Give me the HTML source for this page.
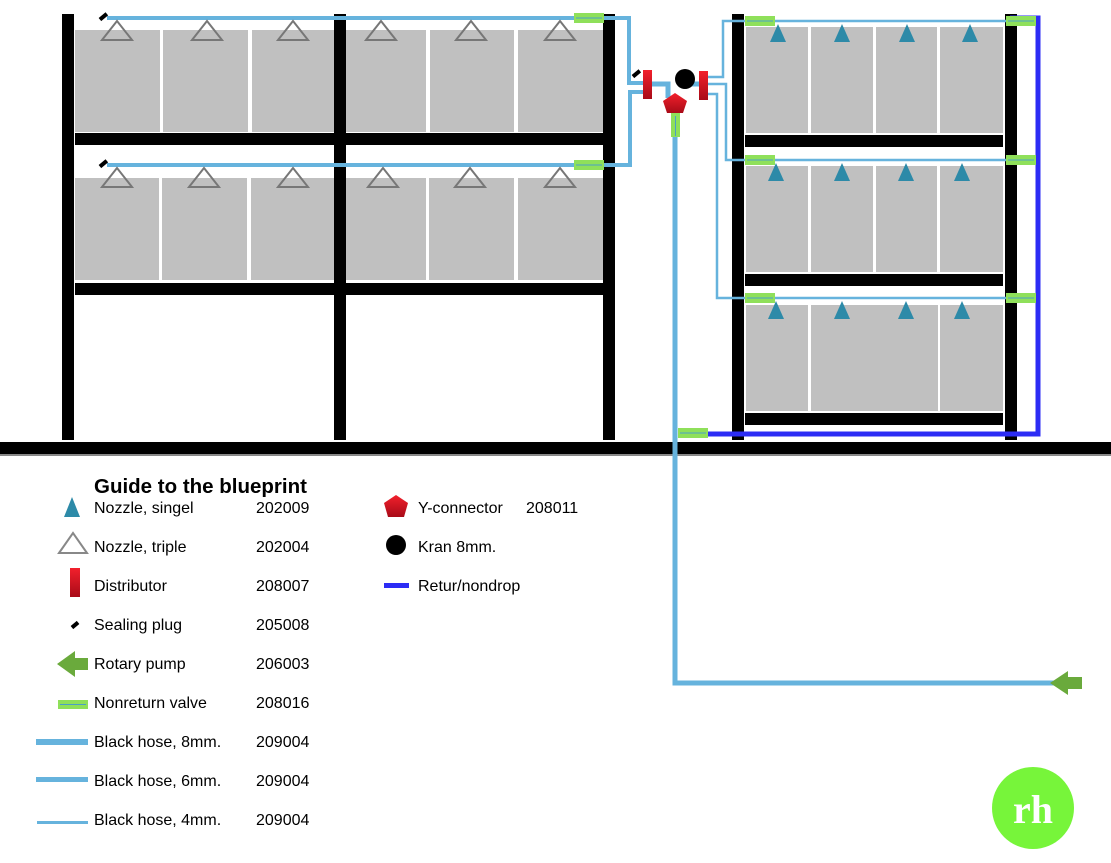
<!DOCTYPE html>
<html><head><meta charset="utf-8"><style>
html,body{margin:0;padding:0;background:#fff;}
svg{display:block;}
text{font-family:"Liberation Sans",Arial,sans-serif;fill:#000;}
</style></head><body>
<svg width="1111" height="863" viewBox="0 0 1111 863" xmlns="http://www.w3.org/2000/svg">
<defs>
<linearGradient id="rd" x1="0" y1="0" x2="0" y2="1"><stop offset="0" stop-color="#f2202c"/><stop offset="1" stop-color="#a80b18"/></linearGradient>
<g id="nrv"><rect x="0" y="0" width="30" height="10" fill="#8fe05a"/><line x1="2" y1="5" x2="28" y2="5" stroke="#4b9fc8" stroke-width="1"/></g>
<g id="tri3"><polygon points="0,20 15,1 30,20" fill="none" stroke="#777" stroke-width="2"/></g>
<g id="tri1"><polygon points="0,18 8,0 16,18" fill="#2d8aa8"/></g>
</defs>

<g fill="#c0c0c0">
<rect x="75" y="30" width="85" height="102"/><rect x="163" y="30" width="85" height="102"/><rect x="252" y="30" width="82" height="102"/>
<rect x="346" y="30" width="80" height="102"/><rect x="430" y="30" width="84" height="102"/><rect x="518" y="30" width="85" height="102"/>
<rect x="75" y="178" width="84" height="102"/><rect x="162" y="178" width="85" height="102"/><rect x="251" y="178" width="83" height="102"/>
<rect x="346" y="178" width="80" height="102"/><rect x="429" y="178" width="85" height="102"/><rect x="518" y="178" width="85" height="102"/>
</g>
<g fill="#000">
<rect x="62" y="14" width="12" height="426"/><rect x="334" y="14" width="12" height="426"/><rect x="603" y="14" width="12" height="426"/>
<rect x="75" y="133" width="540" height="12"/><rect x="75" y="283" width="540" height="12"/>
</g>

<g fill="#c0c0c0">
<rect x="746" y="27" width="62" height="106"/><rect x="811" y="27" width="62" height="106"/><rect x="876" y="27" width="61" height="106"/><rect x="940" y="27" width="63" height="106"/>
<rect x="746" y="166" width="62" height="106"/><rect x="811" y="166" width="62" height="106"/><rect x="876" y="166" width="61" height="106"/><rect x="940" y="166" width="63" height="106"/>
<rect x="746" y="305" width="62" height="106"/><rect x="811" y="305" width="127" height="106"/><rect x="940" y="305" width="63" height="106"/>
</g>
<g fill="#000">
<rect x="732" y="14" width="12" height="426"/><rect x="1005" y="14" width="12" height="426"/>
<rect x="745" y="135" width="258" height="12"/><rect x="745" y="274" width="258" height="12"/><rect x="745" y="413" width="258" height="12"/>
</g>

<rect x="0" y="442" width="1111" height="12" fill="#000"/>
<rect x="0" y="454" width="1111" height="2" fill="#888"/>

<polyline points="1010,18 1038,18 1038,434 680,434" fill="none" stroke="#2c2cf5" stroke-width="5"/>

<g fill="none" stroke="#66b3dd">
<polyline points="107,18 629,18 629,83 643,83" stroke-width="4"/>
<polyline points="107,165 630,165 630,92 643,92" stroke-width="4"/>
<polyline points="652,84 668,84 668,98" stroke-width="5"/>
<polyline points="685,84 699,84" stroke-width="5"/>
<polyline points="675,100 675,683 1060,683" stroke-width="5"/>
<polyline points="707,77 723,77 723,21 1034,21" stroke-width="2.5"/>
<polyline points="707,84 726,84 726,160 1034,160" stroke-width="2.5"/>
<polyline points="707,94 717,94 717,298 1034,298" stroke-width="2.5"/>
</g>

<g>
<use href="#tri3" x="102" y="20"/><use href="#tri3" x="192" y="20"/><use href="#tri3" x="278" y="20"/><use href="#tri3" x="366" y="20"/><use href="#tri3" x="456" y="20"/><use href="#tri3" x="545" y="20"/>
<use href="#tri3" x="102" y="167"/><use href="#tri3" x="189" y="167"/><use href="#tri3" x="278" y="167"/><use href="#tri3" x="368" y="167"/><use href="#tri3" x="455" y="167"/><use href="#tri3" x="545" y="167"/>
</g>
<g>
<use href="#tri1" x="770" y="24"/><use href="#tri1" x="834" y="24"/><use href="#tri1" x="899" y="24"/><use href="#tri1" x="962" y="24"/>
<use href="#tri1" x="768" y="163"/><use href="#tri1" x="834" y="163"/><use href="#tri1" x="898" y="163"/><use href="#tri1" x="954" y="163"/>
<use href="#tri1" x="768" y="301"/><use href="#tri1" x="834" y="301"/><use href="#tri1" x="898" y="301"/><use href="#tri1" x="954" y="301"/>
</g>

<rect x="99" y="15" width="9" height="4" fill="#000" transform="rotate(-40 103 17)"/>
<rect x="99" y="162" width="9" height="4" fill="#000" transform="rotate(-40 103 164)"/>
<rect x="632" y="72" width="9" height="4" fill="#000" transform="rotate(-40 636 74)"/>

<use href="#nrv" x="574" y="13"/><use href="#nrv" x="574" y="160"/>
<use href="#nrv" x="745" y="16"/><use href="#nrv" x="745" y="155"/><use href="#nrv" x="745" y="293"/>
<use href="#nrv" x="1006" y="16"/><use href="#nrv" x="1006" y="155"/><use href="#nrv" x="1006" y="293"/>
<use href="#nrv" x="678" y="428"/>
<rect x="671" y="113" width="9" height="24" fill="#8fe05a"/><line x1="675.5" y1="116" x2="675.5" y2="136" stroke="#4b9fc8"/>

<rect x="643" y="70" width="9" height="29" fill="url(#rd)"/>
<rect x="699" y="71" width="9" height="29" fill="url(#rd)"/>
<circle cx="685" cy="79" r="10" fill="#000"/>
<polygon points="675,93 687,101 683,113 667,113 663,101" fill="url(#rd)"/>

<polygon points="1050,683 1068,671 1068,677 1082,677 1082,689 1068,689 1068,695" fill="#6aaa3c"/>

<text x="94" y="493" font-size="20.5" font-weight="bold">Guide to the blueprint</text>
<g font-size="16">
<text x="94" y="513">Nozzle, singel</text><text x="256" y="513">202009</text>
<text x="94" y="552">Nozzle, triple</text><text x="256" y="552">202004</text>
<text x="94" y="591">Distributor</text><text x="256" y="591">208007</text>
<text x="94" y="630">Sealing plug</text><text x="256" y="630">205008</text>
<text x="94" y="669">Rotary pump</text><text x="256" y="669">206003</text>
<text x="94" y="708">Nonreturn valve</text><text x="256" y="708">208016</text>
<text x="94" y="747">Black hose, 8mm.</text><text x="256" y="747">209004</text>
<text x="94" y="786">Black hose, 6mm.</text><text x="256" y="786">209004</text>
<text x="94" y="825">Black hose, 4mm.</text><text x="256" y="825">209004</text>
<text x="418" y="513">Y-connector</text><text x="526" y="513">208011</text>
<text x="418" y="552">Kran 8mm.</text>
<text x="418" y="591">Retur/nondrop</text>
</g>
<polygon points="72,497 80,517 64,517" fill="#2d8aa8"/>
<polygon points="59,553 73,533 87,553" fill="none" stroke="#888" stroke-width="2"/>
<rect x="70" y="568" width="10" height="29" fill="url(#rd)"/>
<rect x="71" y="623" width="8" height="4" fill="#000" transform="rotate(-40 75 625)"/>
<polygon points="57,664 75,651 75,658 88,658 88,670 75,670 75,677" fill="#6aaa3c"/>
<rect x="58" y="700" width="30" height="9" fill="#8fe05a"/><line x1="60" y1="704.5" x2="86" y2="704.5" stroke="#4b9fc8"/>
<rect x="36" y="739" width="52" height="6" fill="#66b3dd"/>
<rect x="36" y="777" width="52" height="5" fill="#66b3dd"/>
<rect x="37" y="821" width="51" height="3" fill="#66b3dd"/>
<polygon points="396,495 408,503 404,517 388,517 384,503" fill="url(#rd)"/>
<circle cx="396" cy="545" r="10" fill="#000"/>
<rect x="384" y="583" width="25" height="5" fill="#2c2cf5"/>

<circle cx="1033" cy="808" r="41" fill="#77f53a"/>
<text x="1033" y="823" font-size="40" font-weight="bold" text-anchor="middle" style="fill:#fff;font-family:'Liberation Serif',serif">rh</text>
</svg>
</body></html>
